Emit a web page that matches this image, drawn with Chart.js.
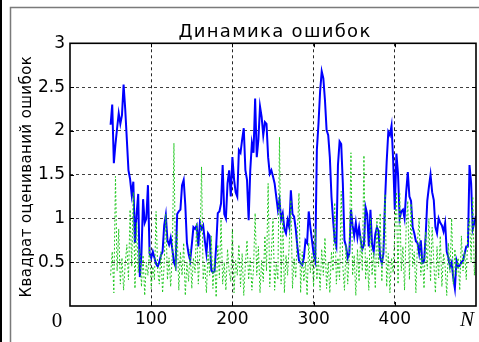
<!DOCTYPE html>
<html>
<head>
<meta charset="utf-8">
<script src="https://cdn.jsdelivr.net/npm/chart.js@4.4.0/dist/chart.umd.min.js"></script>
<style>
  html, body { margin: 0; padding: 0; background: #fff; }
  canvas { display: block; }
</style>
</head>
<body>
<canvas id="c" width="479" height="342"></canvas>
<script>
// Labels
const chartTitle = 'Динамика ошибок';
const yAxisTitle = 'Квадрат оцениваний ошибок';
const axisStartLabel = '0';
const axisEndLabel = 'N';

// Axis ticks
const xTicks = [100, 200, 300, 400];
const yTicks = [0.5, 1, 1.5, 2, 2.5, 3];

// Sampling grid: every second step starting at N = 50
const firstStep = 50;
const stepSize = 2;

// Smoothed squared estimation error (solid blue)
const smoothedError = [
  2.07, 2.30, 1.63, 1.85, 2.03, 2.20, 2.08, 2.18, 2.53, 2.25,
  1.90, 1.55, 1.45, 1.27, 1.42, 0.72, 1.05, 1.28, 0.33, 0.60,
  1.22, 0.95, 1.00, 1.38, 0.60, 0.55, 0.62, 0.55, 0.48, 0.45,
  0.50, 0.58, 0.62, 0.92, 1.04, 0.75, 0.70, 0.78, 0.65, 0.50,
  0.45, 1.05, 1.08, 1.10, 1.38, 1.44, 1.15, 0.72, 0.60, 0.52,
  0.70, 0.90, 0.88, 0.92, 0.68, 0.95, 0.88, 0.92, 0.75, 0.60,
  0.83, 0.80, 0.41, 0.38, 0.40, 0.68, 1.06, 1.08, 1.17, 1.61,
  1.05, 1.00, 1.40, 1.55, 1.25, 1.70, 1.45, 1.30, 1.25, 1.78,
  1.75, 1.90, 2.03, 1.55, 1.44, 0.98, 1.55, 1.86, 1.75, 2.37,
  1.70, 1.90, 2.28, 2.16, 1.95, 2.10, 2.08, 1.70, 1.51, 1.55,
  1.48, 1.40, 1.25, 1.10, 1.21, 0.99, 1.06, 0.88, 0.83, 0.98,
  0.90, 1.32, 1.05, 1.02, 0.88, 0.68, 0.52, 0.49, 0.47, 0.55,
  0.75, 0.72, 1.08, 0.90, 0.75, 0.60, 0.52, 1.78, 2.08, 2.45,
  2.68, 2.60, 2.35, 2.01, 1.95, 1.70, 1.25, 0.98, 0.75, 0.68,
  1.61, 1.88, 1.85, 1.40, 0.75, 0.68, 0.55, 0.60, 1.10, 0.92,
  0.80, 0.95, 0.78, 0.90, 0.75, 0.65, 0.70, 1.13, 1.05, 0.68,
  1.10, 0.70, 0.62, 0.82, 0.90, 0.85, 0.55, 0.49, 0.60, 1.21,
  1.65, 1.99, 1.95, 2.06, 1.66, 1.10, 1.74, 1.50, 1.00, 1.08,
  1.10, 1.00, 1.30, 1.53, 1.25, 1.20, 0.90, 0.83, 0.74, 0.72,
  0.60, 0.75, 0.49, 0.50, 0.80, 1.20, 1.36, 1.50, 1.30, 1.21,
  0.90, 0.83, 1.00, 0.95, 0.92, 0.85, 0.95, 0.62, 0.55, 0.45,
  0.50, 0.32, 0.20, 0.52, 0.45, 0.46, 0.50, 0.52, 0.60, 0.68,
  0.68, 1.61, 1.40, 0.88, 0.95, 1.03
];

// Instantaneous squared error (dotted green)
const instantError = [
  0.35, 0.62, 0.15, 1.48, 0.40, 0.88, 0.25, 0.55, 0.18, 0.48,
  0.70, 0.30, 1.10, 0.45, 1.30, 0.20, 0.95, 0.38, 0.65, 0.22,
  0.58, 0.12, 0.50, 0.35, 0.68, 0.20, 0.45, 0.30, 1.08, 0.40,
  0.25, 0.62, 0.15, 0.48, 1.05, 0.30, 0.55, 0.22, 0.60, 1.86,
  0.40, 0.85, 0.18, 0.62, 0.35, 0.72, 0.12, 0.50, 0.28, 0.65,
  0.20, 0.55, 0.38, 0.95, 0.25, 0.60, 1.59, 0.30, 0.48, 0.15,
  0.62, 0.35, 0.80, 0.20, 0.55, 0.10, 0.70, 0.32, 0.99, 0.25,
  0.50, 0.18, 0.65, 0.40, 0.28, 0.88, 0.15, 0.52, 0.35, 0.70,
  0.22, 0.60, 0.12, 0.48, 0.75, 0.30, 0.55, 0.18, 0.42, 1.06,
  0.35, 0.68, 0.15, 0.52, 0.28, 0.80, 0.40, 1.40, 0.22, 0.60,
  1.00, 0.18, 0.48, 0.30, 1.93, 0.25, 1.05, 0.15, 0.58, 0.35,
  0.70, 1.21, 0.20, 0.55, 0.32, 0.85, 1.29, 0.15, 0.62, 0.28,
  0.50, 0.12, 0.72, 0.38, 0.60, 0.22, 0.88, 0.30, 0.55, 0.18,
  0.65, 0.35, 0.78, 0.20, 0.50, 0.15, 0.62, 0.40, 1.18, 0.25,
  0.55, 0.30, 1.31, 0.45, 0.18, 0.70, 0.25, 0.60, 1.75, 0.35,
  0.58, 0.12, 0.65, 0.28, 0.80, 0.40, 1.72, 0.30, 0.55, 0.18,
  1.00, 0.35, 0.62, 0.20, 1.00, 0.45, 1.06, 0.28, 0.70, 1.28,
  0.22, 0.60, 0.15, 0.55, 0.38, 0.85, 1.30, 0.25, 1.30, 0.40,
  0.68, 0.18, 0.90, 1.20, 0.30, 1.17, 0.45, 0.62, 0.15, 0.75,
  1.00, 0.35, 0.58, 0.20, 0.85, 0.42, 1.00, 0.28, 0.90, 0.50,
  0.15, 0.68, 0.32, 0.80, 0.22, 0.60, 0.45, 0.12, 0.72, 0.38,
  1.00, 0.25, 0.65, 0.35, 0.55, 0.18, 0.80, 0.40, 0.62, 0.30,
  0.85, 1.00, 0.50, 1.25, 0.35, 0.70
];

const toPoints = arr => arr.map((v, i) => ({ x: firstStep + i * stepSize, y: v }));

const FONT = 'DejaVu Sans';

// Figure frame, title, axis label, full box around the axes,
// inward tick marks and the axis end labels
const framePlugin = {
  id: 'framePlugin',
  beforeDraw(chart) {
    const { ctx, width, height } = chart;
    ctx.save();
    ctx.fillStyle = '#fff';
    ctx.fillRect(0, 0, width, height);
    ctx.fillStyle = '#000';
    ctx.fillRect(0, 0, 2, height);
    ctx.strokeStyle = '#7a7a7a';
    ctx.lineWidth = 1.5;
    ctx.beginPath();
    ctx.moveTo(10.5, height);
    ctx.lineTo(10.5, 7.5);
    ctx.lineTo(width, 7.5);
    ctx.stroke();
    ctx.restore();
  },
  afterDraw(chart) {
    const { ctx, chartArea: a, scales: { x, y } } = chart;
    ctx.save();
    ctx.strokeStyle = '#000';
    ctx.lineWidth = 1;
    ctx.beginPath();
    xTicks.forEach(v => {
      const px = Math.round(x.getPixelForValue(v)) + 0.5;
      ctx.moveTo(px, a.bottom); ctx.lineTo(px, a.bottom - 4);
      ctx.moveTo(px, a.top); ctx.lineTo(px, a.top + 4);
    });
    yTicks.forEach(v => {
      const py = Math.round(y.getPixelForValue(v)) + 0.5;
      ctx.moveTo(a.left, py); ctx.lineTo(a.left + 4, py);
      ctx.moveTo(a.right, py); ctx.lineTo(a.right - 4, py);
    });
    ctx.stroke();
    ctx.lineWidth = 1.6;
    ctx.strokeRect(a.left, a.top, a.right - a.left, a.bottom - a.top);

    ctx.fillStyle = '#000';
    ctx.textAlign = 'center';
    ctx.textBaseline = 'alphabetic';

    // title
    ctx.font = `18px "${FONT}"`;
    ctx.letterSpacing = '1.3px';
    ctx.fillText(chartTitle, (a.left + a.right) / 2 + 2, 37);

    // vertical axis label
    ctx.save();
    ctx.font = `15px "${FONT}"`;
    ctx.letterSpacing = '0.4px';
    ctx.translate(31, (a.top + a.bottom) / 2 + 2);
    ctx.rotate(-Math.PI / 2);
    ctx.fillText(yAxisTitle, 0, 0);
    ctx.restore();

    ctx.letterSpacing = '0px';
    ctx.textBaseline = 'middle';
    ctx.font = '21px "Liberation Serif"';
    ctx.fillText(axisStartLabel, 57, 321);
    ctx.font = 'italic 21px "Liberation Serif"';
    ctx.fillText(axisEndLabel, 467, 320);
    ctx.restore();
  }
};

new Chart(document.getElementById('c'), {
  type: 'line',
  data: {
    datasets: [
      {
        label: 'instant',
        data: toPoints(instantError),
        borderColor: '#22c822',
        borderWidth: 1,
        borderDash: [2, 2],
        pointRadius: 0,
        tension: 0,
        order: 0
      },
      {
        label: 'smoothed',
        data: toPoints(smoothedError),
        borderColor: '#0000ff',
        borderWidth: 2,
        pointRadius: 0,
        tension: 0,
        order: 1
      }
    ]
  },
  options: {
    responsive: false,
    animation: false,
    devicePixelRatio: 1,
    layout: { padding: { left: 12, right: 2, top: 43.3, bottom: 0 } },
    plugins: {
      legend: { display: false },
      tooltip: { enabled: false },
      title: { display: false }
    },
    scales: {
      x: {
        type: 'linear',
        min: 0,
        max: 500,
        afterFit: s => { s.height = 36; },
        ticks: {
          stepSize: 100,
          autoSkip: false,
          maxRotation: 0,
          padding: 3,
          color: '#000',
          font: { family: FONT, size: 17 },
          callback: v => xTicks.includes(v) ? String(v) : ''
        },
        grid: {
          drawTicks: false,
          lineWidth: 1,
          color: c => (c.tick && xTicks.includes(c.tick.value)) ? 'rgba(0,0,0,0.85)' : 'rgba(0,0,0,0)'
        },
        border: { display: false, dash: [3, 3] }
      },
      y: {
        type: 'linear',
        min: 0,
        max: 3,
        afterFit: s => { s.width = 58; },
        ticks: {
          stepSize: 0.5,
          padding: 5,
          color: '#000',
          font: { family: FONT, size: 17 },
          callback: v => yTicks.includes(v) ? String(v) : ''
        },
        grid: {
          drawTicks: false,
          lineWidth: 1,
          color: c => (c.tick && c.tick.value > 0 && c.tick.value < 3) ? 'rgba(0,0,0,0.75)' : 'rgba(0,0,0,0)'
        },
        border: { display: false, dash: [3, 3] }
      }
    }
  },
  plugins: [framePlugin]
});
</script>
</body>
</html>
